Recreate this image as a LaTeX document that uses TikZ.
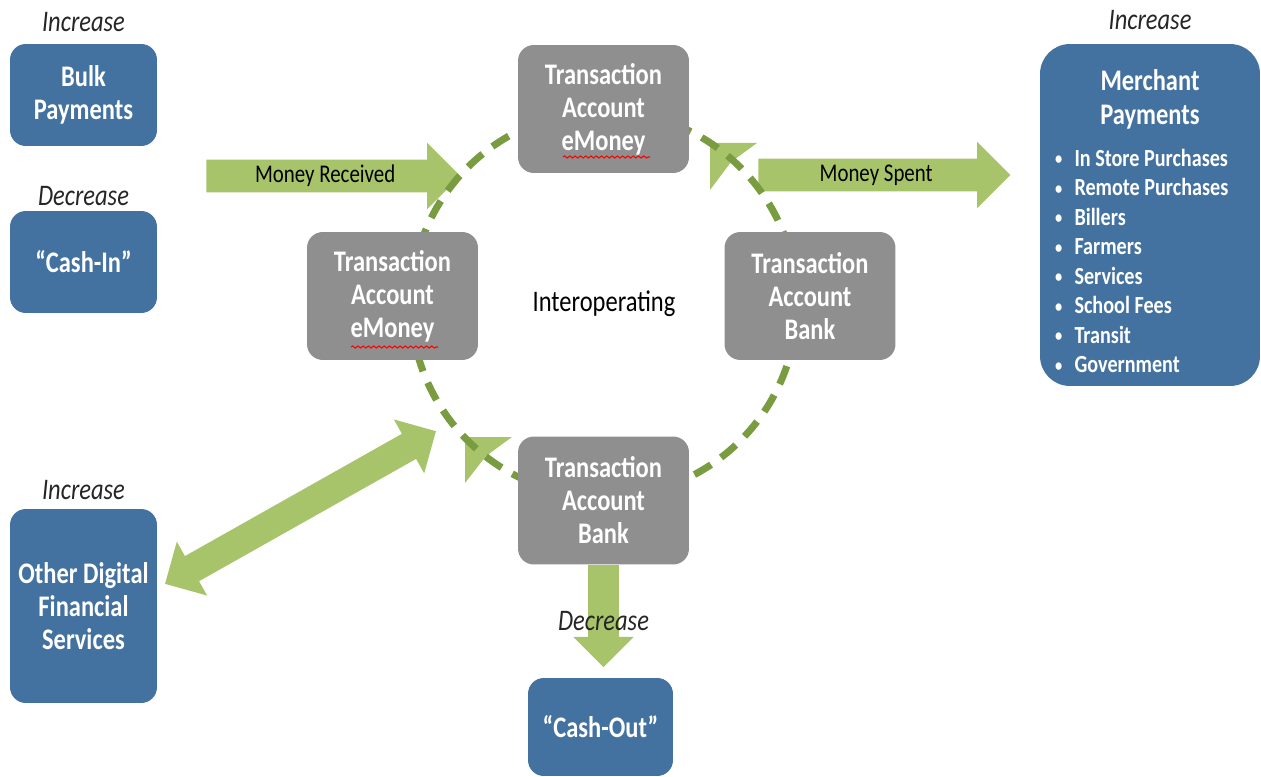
\documentclass[tikz,border=0pt]{standalone}
\usepackage{fontspec}
\setmainfont{Carlito}[FakeStretch=0.82]
\usetikzlibrary{positioning,shapes.arrows,decorations.pathmorphing}
\definecolor{boxblue}{RGB}{68,114,160}
\definecolor{boxgray}{RGB}{143,143,143}
\definecolor{arrowgreen}{RGB}{168,196,106}
\definecolor{dashgreen}{RGB}{122,156,64}
\newcommand{\mbul}{\raisebox{.15ex}{\fontsize{10}{10}\selectfont\textbullet}\hspace{7pt}}
\begin{document}
\begin{tikzpicture}[x=0.02cm,y=-0.02cm,
    boxtext/.style={text=white,align=center,font=\fontsize{17}{18.8}\selectfont\bfseries},
    bluebox/.style={boxtext,fill=boxblue,rounded corners=9pt,minimum width=2.94cm,minimum height=2.04cm},
    graybox/.style={boxtext,fill=boxgray,rounded corners=9pt,minimum width=3.42cm,minimum height=2.56cm},
    tag/.style={inner sep=0pt,text=black!85,font=\fontsize{17}{20}\selectfont\itshape},
    flow/.style={single arrow,fill=arrowgreen,inner sep=0pt,single arrow tip angle=90,
      text height=12.6pt,text depth=5.6pt,single arrow head extend=9.6pt,anchor=tail,
      font=\fontsize{14.5}{16}\selectfont},
    wavy/.style={red,line width=.6pt,decorate,decoration={snake,amplitude=.6pt,segment length=3pt}}]
  \useasboundingbox (0,0) rectangle (1261,777);
  \node[flow,minimum height=5.08cm] (received) at (206,176) {Money Received};
  \node[flow,minimum height=5.04cm] (spent) at (758,175) {Money Spent};
  \node[double arrow,fill=arrowgreen,inner sep=0pt,double arrow tip angle=90,text height=16pt,
    text depth=0pt,double arrow head extend=9.4pt,minimum height=6.22cm,rotate=29.4] (dfsflow) at (300.5,507.5) {};
  \fill[arrowgreen] (710,143) -- (757,143) -- (731,162) -- (710,190) -- cycle;
  \fill[arrowgreen] (465,437) -- (512,437) -- (486,456) -- (465,483) -- cycle;
  \node[font=\fontsize{17}{20}\selectfont] (interop) at (604,304) {Interoperating};
  \draw[dashgreen,line width=4pt,dash pattern=on 11pt off 7pt] (interop) circle[radius=193];
  \foreach \name/\pos/\kind in {emtop/{603.5,109}/eMoney,emleft/{392.5,296}/eMoney,
      bankright/{810,296}/Bank,bankbot/{603.5,500.5}/Bank}
    \node[graybox] (\name) at (\pos) {Transaction\\Account\\\kind};
  \draw[wavy] (563,157) -- (650,157);
  \draw[wavy] (351,347) -- (438,347);
  \node[flow,rotate=-90,minimum height=2.04cm,text height=17pt,text depth=0pt,
    single arrow head extend=8.5pt] (cashflow) at (bankbot.south) {};
  \node[tag,below=0.92cm of bankbot] (decout) {Decrease};
  \node[bluebox] (bulk) at (83.5,95) {Bulk\\Payments};
  \node[bluebox] (cashin) at (83.5,262) {“Cash-In”};
  \node[bluebox,minimum height=3.88cm] (dfs) at (83.5,606) {Other Digital\\Financial\\Services};
  \node[bluebox,minimum width=2.9cm,minimum height=1.96cm] (cashout) at (600.5,727) {“Cash-Out”};
  \node[bluebox,minimum width=4.4cm,minimum height=6.84cm,rounded corners=17pt] (merchant) at (1150,215) {};
  \node[boxtext,inner sep=0pt,below=0.52cm of merchant.north] (mtitle) {Merchant\\Payments};
  \node[boxtext,inner sep=0pt,align=left,font=\fontsize{14}{16.8}\selectfont\bfseries,
    below right=2.1cm and 0.3cm of merchant.north west] (mlist)
    {\mbul In Store Purchases\\\mbul Remote Purchases\\\mbul Billers\\\mbul Farmers\\
     \mbul Services\\\mbul School Fees\\\mbul Transit\\\mbul Government};
  \node[tag,above=6.8pt of bulk] (incbulk) {Increase};
  \node[tag,above=2.8pt of cashin] (deccash) {Decrease};
  \node[tag,above=5pt of dfs] (incdfs) {Increase};
  \node[tag,above=8pt of merchant] (incmerch) {Increase};
\end{tikzpicture}
\end{document}
